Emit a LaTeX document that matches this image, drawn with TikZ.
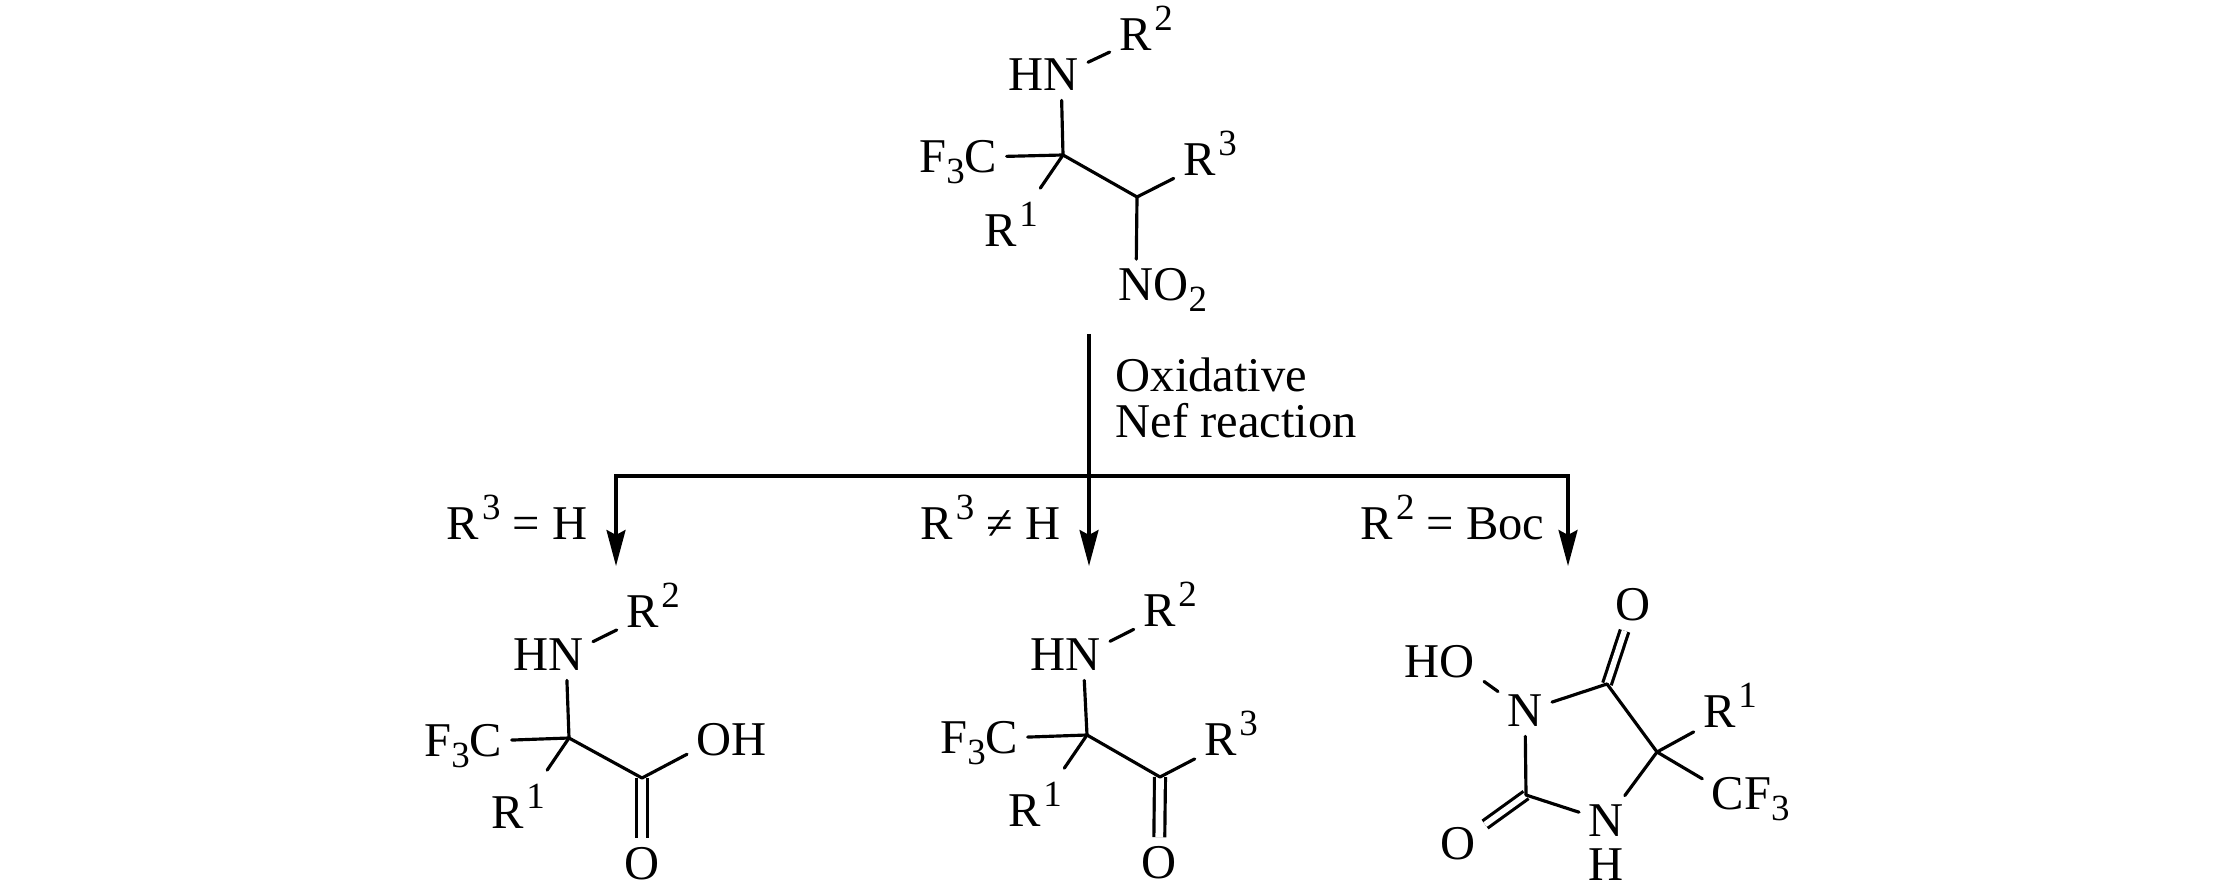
\documentclass[tikz,border=0pt]{standalone}
\usepackage{fontspec}
\setmainfont{Liberation Serif}
\usetikzlibrary{arrows.meta}
\newcommand\chsup[1]{\smash{\kern0.8pt\raisebox{5.7pt}{\fontsize{10.5}{10.5}\selectfont #1}}}
\newcommand\chsub[1]{\smash{\raisebox{-3pt}{\fontsize{10.5}{10.5}\selectfont #1}}}
\tikzset{
  atom/.style={inner sep=2.5pt},
  bond/.style={line width=0.9pt, line cap=round},
  rbond/.style={bond, shorten >=6pt},
  dbond/.style={double, line width=0.9pt, double distance=2.2pt},
  arr/.style={line width=0.9pt, -{Stealth[length=3.6mm,width=1.9mm,inset=0.5mm]}},
  cond/.style={inner sep=0pt}
}
\begin{document}
\begin{tikzpicture}[x=0.01cm, y=-0.01cm, every node/.style={font=\fontsize{13.8}{13.1}\selectfont}]
    \useasboundingbox (0,0) rectangle (2213,886);

    % starting nitro compound
    \draw (1063,155) coordinate(t1)
       (1137,197) coordinate(t2)
       (1061,75) node[atom](tnh){\llap{H}N}
       (1146,35) node[atom](tr2){R\chsup{2}}
       (981,157) node[atom](tcf){\llap{F\chsub{3}}C}
       (1011,231) node[atom](tr1){R\chsup{1}}
       (1210,160) node[atom](tr3){R\chsup{3}}
       (1136,285) node[atom](tno){N\rlap{O\chsub{2}}};

    \draw[bond] (tnh) -- (tr2);
    \draw[bond] (t1) -- (tnh);
    \draw[bond] (t1) -- (tcf);
    \draw[rbond] (t1) -- (tr1);
    \draw[bond] (t1) -- (t2);
    \draw[bond] (t2) -- (tr3);
    \draw[bond] (t2) -- (tno);

    % arrows and conditions
    \draw (1089,334) coordinate(s0)
       (1089,476) coordinate(s1)
       (616,566) coordinate(e1)
       (1089,566) coordinate(e2)
       (1568,566) coordinate(e3);
    \draw[arr] (s0) -- (e2);
    \draw[arr] (s1) -| (e1);
    \draw[arr] (s1) -| (e3);

    \node[cond, anchor=base west] (ox1) at (1115,392) {Oxidative};
    \node[cond, anchor=base west] (ox2) at (1115,438) {Nef reaction};
    \node[cond, anchor=base east] (c1) at (588,540) {R\chsup{3} = H};
    \node[cond, anchor=base east] (c2) at (1061,540) {R\chsup{3} ≠ H};
    \node[cond, anchor=base east] (c3) at (1545,540) {R\chsup{2} = Boc};

    % amino acid
    \draw (569,738) coordinate(a1)
       (642,778) coordinate(a2)
       (566,655) node[atom](anh){\llap{H}N}
       (653,612) node[atom](ar2){R\chsup{2}}
       (486,741) node[atom](acf){\llap{F\chsub{3}}C}
       (518,813) node[atom](ar1){R\chsup{1}}
       (714,740) node[atom](aoh){O\rlap{H}}
       (642,864) node[atom](ao){O};

    \draw[dbond] (a2) -- (ao);
    \draw[bond] (anh) -- (ar2);
    \draw[bond] (a1) -- (anh);
    \draw[bond] (a1) -- (acf);
    \draw[rbond] (a1) -- (ar1);
    \draw[bond] (a1) -- (a2);
    \draw[bond] (a2) -- (aoh);

    % ketone
    \draw (1087,735) coordinate(k1)
       (1160,777) coordinate(k2)
       (1083,655) node[atom](knh){\llap{H}N}
       (1170,611) node[atom](kr2){R\chsup{2}}
       (1002,738) node[atom](kcf){\llap{F\chsub{3}}C}
       (1035,811) node[atom](kr1){R\chsup{1}}
       (1231,740) node[atom](kr3){R\chsup{3}}
       (1159,863) node[atom](ko){O};

    \draw[dbond] (k2) -- (ko);
    \draw[bond] (knh) -- (kr2);
    \draw[bond] (k1) -- (knh);
    \draw[bond] (k1) -- (kcf);
    \draw[rbond] (k1) -- (kr1);
    \draw[bond] (k1) -- (k2);
    \draw[bond] (k2) -- (kr3);

    % hydantoin
    \draw (1607,684) coordinate(h4)
       (1657,752) coordinate(h5)
       (1526,795) coordinate(h2)
       (1525,711) node[atom](hn1){N}
       (1606,821) node[atom](hn3){N}
       (1606,865) node[atom](hh){H}
       (1457,662) node[atom](hoh){\llap{H}O}
       (1633,605) node[atom](ho4){O}
       (1458,844) node[atom](ho2){O}
       (1730,712) node[atom](hr1){R\chsup{1}}
       (1728,794) node[atom](hcf){C\rlap{F\chsub{3}}};

    \draw[dbond, double distance=1.6pt] (h4) -- (ho4);
    \draw[dbond, double distance=1.6pt] (h2) -- (ho2);
    \draw[bond] (hn1) -- (h4);
    \draw[bond] (h4) -- (h5);
    \draw[bond] (h5) -- (hn3);
    \draw[bond] (hn3) -- (h2);
    \draw[bond] (h2) -- (hn1);
    \draw[bond] (hn1) -- (hoh);
    \draw[bond] (h5) -- (hr1);
    \draw[bond] (h5) -- (hcf);
\end{tikzpicture}
\end{document}
